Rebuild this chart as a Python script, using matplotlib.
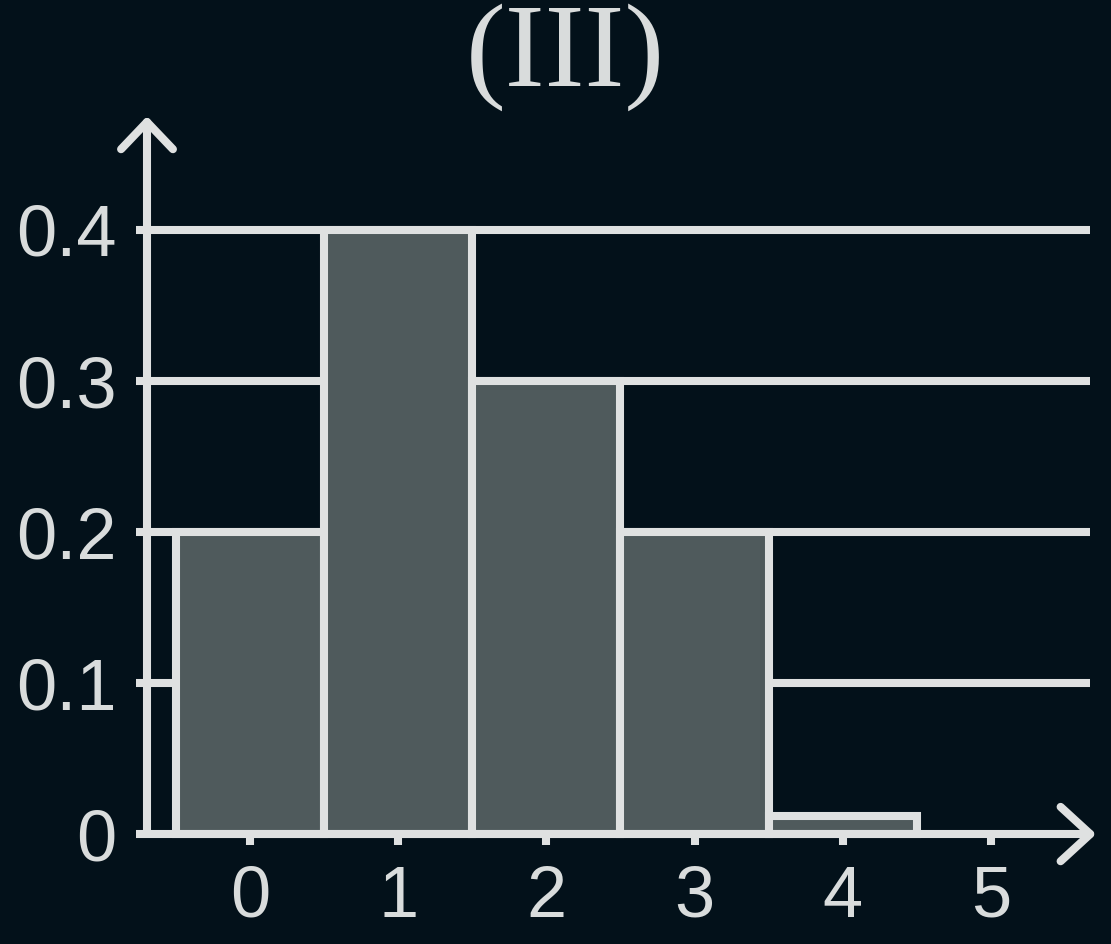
"""Bar chart (III) on a dark background."""

import matplotlib.pyplot as plt

values = [0, 1, 2, 3, 4]
probs = [0.2, 0.4, 0.3, 0.2, 0.012]
x_ticks = [0, 1, 2, 3, 4, 5]
x_labels = ["0", "1", "2", "3", "4", "5"]
y_ticks = [0, 0.1, 0.2, 0.3, 0.4]
y_labels = ["0", "0.1", "0.2", "0.3", "0.4"]
title = "(III)"

bg = "#03111a"
line_col = "#dfe1e1"
bar_col = "#4f5a5c"
text_col = "#d9dcdc"
lw = 5.8  # ~8 px

fig = plt.figure(figsize=(11.11, 9.44), dpi=100, facecolor=bg)
ax = fig.add_axes([0, 0, 1, 1], facecolor=bg)
ax.set_xlim(-1.687, 5.81)
ax.set_ylim(-0.0728, 0.5523)

x_axis = -0.695
x_end = 5.67
y_end = 0.4715

# grid lines behind the bars
ax.hlines(y_ticks[1:], x_axis, x_end, color=line_col, linewidth=lw, zorder=1)

ax.bar(values, probs, width=1.0, color=bar_col, edgecolor=line_col,
       linewidth=lw, zorder=2)

# axes spines as arrows
for side in ["top", "right"]:
    ax.spines[side].set_visible(False)
ax.spines["left"].set_position(("data", x_axis))
ax.spines["bottom"].set_position(("data", 0))
ax.spines["left"].set_bounds(0, y_end)
ax.spines["bottom"].set_bounds(x_axis, x_end)
for side in ["left", "bottom"]:
    ax.spines[side].set_color(line_col)
    ax.spines[side].set_linewidth(lw)
    ax.spines[side].set_zorder(3)
    ax.spines[side].set_capstyle("round")

ax.plot([x_axis - 0.175, x_axis, x_axis + 0.175],
        [y_end - 0.018, y_end, y_end - 0.018],
        color=line_col, linewidth=lw, solid_capstyle="round",
        solid_joinstyle="round", zorder=3)
ax.plot([x_end - 0.2, x_end, x_end - 0.2],
        [0.018, 0, -0.018],
        color=line_col, linewidth=lw, solid_capstyle="round",
        solid_joinstyle="round", zorder=3)

ax.set_xticks(x_ticks, x_labels)
ax.set_yticks(y_ticks, y_labels)
ax.tick_params(axis="both", direction="out", length=8, width=lw,
               color=line_col, labelcolor=text_col, labelsize=52, pad=14)
for lab in ax.get_xticklabels() + ax.get_yticklabels():
    lab.set_fontfamily("Liberation Sans")

ax.text(2.13, 0.5145, title, ha="center", va="center", fontsize=86,
        color=text_col, family="Liberation Serif")

fig.savefig("out.png", dpi=100, facecolor=bg)
